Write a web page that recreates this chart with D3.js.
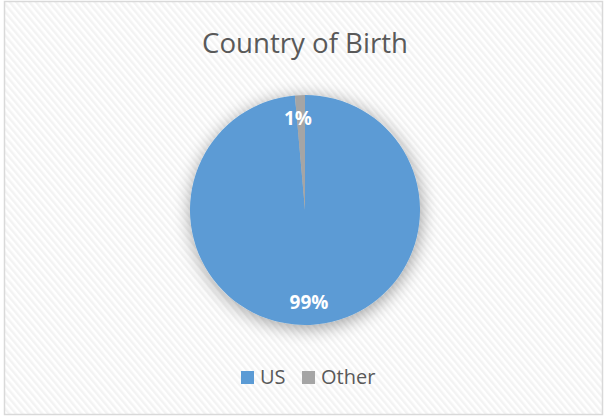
<!DOCTYPE html>
<html><head><meta charset="utf-8">
<script src="https://cdn.jsdelivr.net/npm/d3@7"></script>
<style>body{margin:0;background:#fff}svg{display:block}</style>
</head><body>
<script>
const categories = ["US", "Other"];
const values = [98.6, 1.4];
const colors = ["#5B9BD5", "#A5A5A5"];
const title = "Country of Birth";

const W = 605, H = 417;
const svg = d3.select("body").append("svg").attr("width", W).attr("height", H);
const defs = svg.append("defs");
const pat = defs.append("pattern").attr("id", "hatch").attr("patternUnits", "userSpaceOnUse")
  .attr("width", 5).attr("height", 5).attr("patternTransform", "rotate(-40)");
pat.append("rect").attr("width", 5).attr("height", 5).attr("fill", "#ffffff");
pat.append("rect").attr("width", 2.5).attr("height", 5).attr("fill", "#f3f3f3");

const f = defs.append("filter").attr("id", "shadow").attr("x", "-30%").attr("y", "-30%").attr("width", "160%").attr("height", "160%");
f.append("feGaussianBlur").attr("in", "SourceAlpha").attr("stdDeviation", 9).attr("result", "b");
f.append("feOffset").attr("in", "b").attr("dx", 1).attr("dy", 3).attr("result", "o");
f.append("feComponentTransfer").attr("in", "o").attr("result", "s")
  .append("feFuncA").attr("type", "linear").attr("slope", 0.38);
const m = f.append("feMerge");
m.append("feMergeNode").attr("in", "s");
m.append("feMergeNode").attr("in", "SourceGraphic");

svg.append("rect").attr("x", 4.5).attr("y", 1.5).attr("width", 598).attr("height", 413)
  .attr("fill", "url(#hatch)").attr("stroke", "#d9d9d9").attr("stroke-width", 1.5);

svg.append("text").attr("x", 305).attr("y", 53).attr("text-anchor", "middle")
  .attr("font-family", "'Open Sans', sans-serif").attr("font-size", 28).attr("fill", "#595959")
  .attr("textLength", 206).attr("lengthAdjust", "spacingAndGlyphs").text(title);

const cx = 305, cy = 210, r = 115;
const pie = d3.pie().sort(null).value(d => d)(values);
const arc = d3.arc().innerRadius(0).outerRadius(r);
const g = svg.append("g").attr("transform", `translate(${cx},${cy})`);
g.append("g").attr("filter", "url(#shadow)").selectAll("path").data(pie).join("path")
  .attr("d", arc).attr("fill", (d, i) => colors[i]);

const total = d3.sum(values);
const labelArc = d3.arc().innerRadius(r * 0.8).outerRadius(r * 0.8);
g.selectAll("text.lbl").data(pie).join("text").attr("class", "lbl")
  .attr("transform", (d, i) => { const c = labelArc.centroid(d); return `translate(${c[0] + (i === 1 ? -3 : 0)},${c[1]})`; })
  .attr("text-anchor", "middle").attr("dy", "0.35em")
  .attr("font-family", "'Open Sans', sans-serif").attr("font-weight", "bold").attr("font-size", 19)
  .attr("fill", "#ffffff").text(d => Math.round(d.value / total * 100) + "%");

const legend = svg.append("g");
const lx = [241, 302];
categories.forEach((c, i) => {
  legend.append("rect").attr("x", lx[i]).attr("y", 371).attr("width", 13).attr("height", 13).attr("fill", colors[i]);
  legend.append("text").attr("x", lx[i] + 19).attr("y", 384)
    .attr("font-family", "'Open Sans', sans-serif").attr("font-size", 20).attr("fill", "#595959").text(c);
});
</script>
</body></html>
